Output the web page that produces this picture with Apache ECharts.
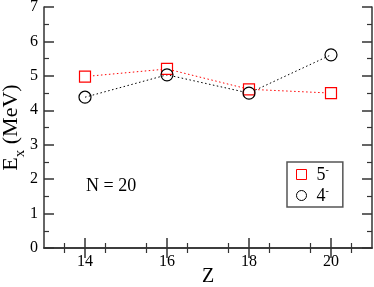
<!DOCTYPE html>
<html><head><meta charset="utf-8">
<script src="https://cdn.jsdelivr.net/npm/echarts@6/dist/echarts.min.js"></script>
<style>html,body{margin:0;padding:0;background:#fff}#c{width:374px;height:287px}</style>
</head><body><div id="c"></div>
<script>
const zValues = [14, 16, 18, 20];
const e5minus = [4.98, 5.20, 4.61, 4.50];
const e4minus = [4.38, 5.03, 4.50, 5.61];
const seriesNames = ['5-', '4-'];
const xTicks = [14, 16, 18, 20];
const yTicks = [0, 1, 2, 3, 4, 5, 6, 7];

const F = 'Liberation Serif';
const chart = echarts.init(document.getElementById('c'), null, {renderer: 'canvas'});
const pairs = arr => zValues.map((z, i) => [z, arr[i]]);
const axisCommon = {
  axisLine: {show: true, lineStyle: {color: '#333', width: 1.5}},
  splitLine: {show: false},
};
chart.setOption({
  animation: false,
  grid: {left: 44, right: 2, top: 7, bottom: 39, containLabel: false, outerBoundsMode: 'none'},
  xAxis: [{
    ...axisCommon, type: 'value', min: 13, max: 21, interval: 1,
    axisTick: {inside: true, length: 10, lineStyle: {color: '#333', width: 1.5}, customValues: xTicks},
    minorTick: {show: true, splitNumber: 2, length: 5, lineStyle: {color: '#333', width: 1.2}},
    axisLabel: {fontFamily: F, fontSize: 16, color: '#000', margin: 6, customValues: xTicks},
    name: 'Z', nameLocation: 'middle', nameGap: 29, nameMoveOverlap: false,
    nameTextStyle: {fontFamily: F, fontSize: 20, color: '#000', verticalAlign: 'middle'}
  }, {
    ...axisCommon, type: 'value', position: 'top', min: 13, max: 21, interval: 1,
    axisTick: {inside: true, length: 10, lineStyle: {color: '#333', width: 1.5}, customValues: xTicks},
    minorTick: {show: true, splitNumber: 2, length: 5, lineStyle: {color: '#333', width: 1.2}},
    axisLabel: {show: false}
  }],
  yAxis: [{
    ...axisCommon, type: 'value', min: 0, max: 7, interval: 1,
    axisTick: {inside: true, length: 10, lineStyle: {color: '#333', width: 1.5}},
    minorTick: {show: true, splitNumber: 2, length: 5, lineStyle: {color: '#333', width: 1.2}},
    axisLabel: {fontFamily: F, fontSize: 16, color: '#000', margin: 6,
      formatter: v => yTicks.includes(v) ? String(v) : ''},
    name: '{a|E}{b|x}{a| (MeV)}', nameLocation: 'middle', nameGap: 4, nameRotate: 90,
    nameMoveOverlap: false,
    nameTextStyle: {
      rich: {
        a: {fontFamily: F, fontSize: 22, color: '#000', lineHeight: 22, verticalAlign: 'top'},
        b: {fontFamily: F, fontSize: 15, color: '#000', lineHeight: 40, verticalAlign: 'middle'}
      }
    }
  }, {
    ...axisCommon, type: 'value', position: 'right', min: 0, max: 7, interval: 1,
    axisTick: {inside: true, length: 10, lineStyle: {color: '#333', width: 1.5}},
    minorTick: {show: true, splitNumber: 2, length: 5, lineStyle: {color: '#333', width: 1.2}},
    axisLabel: {show: false}
  }],
  legend: {
    left: 287, top: 162,
    orient: 'vertical', padding: [3, 14, 2, 9], itemGap: 2,
    itemWidth: 10, itemHeight: 10,
    borderColor: '#555', borderWidth: 1.5, borderRadius: 0,
    data: [{name: seriesNames[0], icon: 'rect'}, {name: seriesNames[1], icon: 'circle'}],
    itemStyle: {color: '#fff', borderWidth: 1},
    formatter: n => '{a|' + n[0] + '}{s|-}',
    textStyle: {
      rich: {
        a: {fontFamily: F, fontSize: 18, color: '#000', lineHeight: 19, verticalAlign: 'bottom', padding: [0,0,0,5]},
        s: {fontFamily: F, fontSize: 10, color: '#000', lineHeight: 10, verticalAlign: 'top'}
      }
    }
  },
  graphic: [{
    type: 'text', left: 86, top: 177,
    style: {text: 'N = 20', fontFamily: F, fontSize: 18, fill: '#000'}
  }],
  series: [{
    name: seriesNames[0], type: 'line', data: pairs(e5minus),
    symbol: 'rect', symbolSize: 11, showAllSymbol: true,
    itemStyle: {color: '#fff', borderColor: '#ff0000', borderWidth: 1.2},
    lineStyle: {color: '#ff0000', width: 1, type: [1.5, 2.5]}
  }, {
    name: seriesNames[1], type: 'line', data: pairs(e4minus),
    symbol: 'circle', symbolSize: 12, showAllSymbol: true,
    itemStyle: {color: 'rgba(0,0,0,0)', borderColor: '#000', borderWidth: 1.2},
    lineStyle: {color: '#000', width: 1, type: [1.5, 2.5]}
  }]
});
</script>
</body></html>
